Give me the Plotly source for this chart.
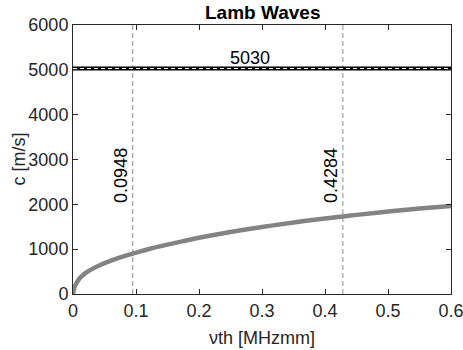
import plotly.graph_objects as go

# Data
fd = [0, 0.002, 0.005, 0.01, 0.015, 0.02, 0.03, 0.04, 0.05, 0.0625, 0.075, 0.0948,
      0.11, 0.125, 0.15, 0.175, 0.2, 0.25, 0.3, 0.35, 0.4, 0.4284, 0.45, 0.5, 0.55, 0.6]
c_a0 = [0, 130, 230, 340, 410, 470, 555, 625, 690, 755, 815, 900,
        960, 1020, 1100, 1180, 1255, 1385, 1495, 1595, 1685, 1730, 1765, 1840, 1905, 1965]
c_s0 = 5030
x_range = [0, 0.6]
x_ticks = [0, 0.1, 0.2, 0.3, 0.4, 0.5, 0.6]
x_ticktext = ["0", "0.1", "0.2", "0.3", "0.4", "0.5", "0.6"]
y_ticks = [0, 1000, 2000, 3000, 4000, 5000, 6000]
cutoffs = [0.0948, 0.4284]
cutoff_labels = ["0.0948", "0.4284"]

font = "Liberation Sans, Arial, sans-serif"
fs = 18
fig = go.Figure()

fig.add_trace(go.Scatter(x=x_range, y=[c_s0, c_s0], mode="lines",
                         line=dict(color="black", width=4), showlegend=False))
fig.add_trace(go.Scatter(x=x_range, y=[c_s0, c_s0], mode="lines",
                         line=dict(color="white", width=1.2, dash="4px,3px"), showlegend=False))
fig.add_trace(go.Scatter(x=fd, y=c_a0, mode="lines", line_shape="spline",
                         line=dict(color="#838383", width=4.5), showlegend=False))

for xv, lab in zip(cutoffs, cutoff_labels):
    fig.add_shape(type="line", x0=xv, x1=xv, y0=0, y1=6000, xref="x", yref="y",
                  line=dict(color="#8c8c8c", width=1, dash="5px,3px"), layer="below")
    fig.add_annotation(x=xv, y=2650, text=lab, textangle=-90, showarrow=False,
                       xanchor="right", yanchor="middle", xshift=0,
                       font=dict(family=font, size=fs, color="black"))

fig.add_annotation(x=0.281, y=c_s0, text=str(c_s0), showarrow=False,
                   yanchor="bottom", yshift=-2,
                   font=dict(family=font, size=fs, color="black"))

axis_common = dict(showgrid=False, zeroline=False, showline=True, linecolor="#262626",
                   linewidth=1, mirror="ticks", ticks="inside", ticklen=5,
                   tickcolor="#262626", automargin=False, ticklabeloverflow="allow",
                   tickfont=dict(family=font, size=fs, color="#262626"))

fig.update_layout(
    width=463, height=350,
    margin=dict(l=73, r=12, t=25, b=56),
    plot_bgcolor="white", paper_bgcolor="white",
    xaxis=dict(range=x_range, tickvals=x_ticks, ticktext=x_ticktext, **axis_common),
    yaxis=dict(range=[0, 6000], tickvals=y_ticks, **axis_common),
    annotations=list(fig.layout.annotations) + [
        dict(xref="paper", yref="paper", x=0.5, y=1, yshift=13, text="<b>Lamb Waves</b>",
             showarrow=False, xanchor="center", yanchor="middle",
             font=dict(family=font, size=19, color="black")),
        dict(xref="paper", yref="paper", x=0.5, y=0, yshift=-44, text="\u03bdth [MHzmm]",
             showarrow=False, xanchor="center", yanchor="middle",
             font=dict(family=font, size=fs, color="#262626")),
        dict(xref="paper", yref="paper", x=0, xshift=-55, y=0.5, text="c [m/s]",
             textangle=-90, showarrow=False, xanchor="center", yanchor="middle",
             font=dict(family=font, size=fs, color="#262626")),
    ],
)

fig.write_html("out.html", config={"displayModeBar": False},
               post_script="document.body.style.margin='0px';document.body.style.overflow='hidden';")
